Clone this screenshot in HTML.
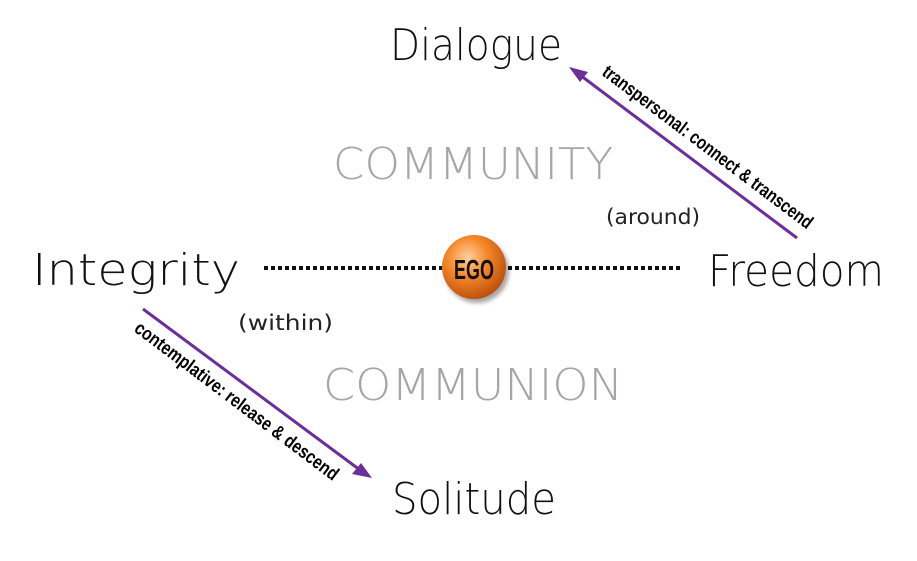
<!DOCTYPE html>
<html><head><meta charset="utf-8"><style>
html,body{margin:0;padding:0;background:#fff;}
svg{display:block;}
</style></head><body>
<svg width="917" height="561" viewBox="0 0 917 561" xmlns="http://www.w3.org/2000/svg">
<defs>
<radialGradient id="ball" cx="0.4" cy="0.35" r="0.7">
<stop offset="0" stop-color="#ffd0a0"/>
<stop offset="0.45" stop-color="#f5872a"/>
<stop offset="1" stop-color="#b84a08"/>
</radialGradient>
<filter id="sh" x="-30%" y="-30%" width="160%" height="160%"><feGaussianBlur stdDeviation="2"/></filter>
</defs>
<g font-family="'DejaVu Sans','Liberation Sans',sans-serif" font-weight="300" fill="#111">
<text x="390" y="60" font-size="44" textLength="172" lengthAdjust="spacingAndGlyphs">Dialogue</text>
<text x="32" y="285" font-size="44" textLength="208" lengthAdjust="spacingAndGlyphs">Integrity</text>
<text x="708" y="286" font-size="44" textLength="176" lengthAdjust="spacingAndGlyphs">Freedom</text>
<text x="392" y="514" font-size="44" textLength="164" lengthAdjust="spacingAndGlyphs">Solitude</text>
</g>
<g font-family="'DejaVu Sans','Liberation Sans',sans-serif" font-weight="200" fill="#a6a6a6" font-size="44">
<text x="333" y="179" textLength="280" lengthAdjust="spacingAndGlyphs">COMMUNITY</text>
<text x="323" y="400" textLength="300" lengthAdjust="spacingAndGlyphs">COMMUNION</text>
</g>
<g font-family="'DejaVu Sans','Liberation Sans',sans-serif" fill="#222" font-size="21">
<text x="606" y="224" textLength="94" lengthAdjust="spacingAndGlyphs">(around)</text>
<text x="238" y="330" textLength="95" lengthAdjust="spacingAndGlyphs">(within)</text>
</g>
<line x1="264" y1="268" x2="442" y2="268" stroke="#111" stroke-width="4" stroke-dasharray="4 3"/>
<line x1="508" y1="268" x2="682" y2="268" stroke="#111" stroke-width="4" stroke-dasharray="4 3"/>
<circle cx="477" cy="271" r="32" fill="#000" opacity="0.35" filter="url(#sh)"/>
<circle cx="474" cy="267" r="32" fill="url(#ball)"/>
<text x="474" y="279" text-anchor="middle" font-family="'Liberation Sans',sans-serif" font-weight="bold" font-size="28" fill="#111" textLength="40" lengthAdjust="spacingAndGlyphs">EGO</text>
<line x1="797" y1="238" x2="580" y2="75" stroke="#6b2f9a" stroke-width="3"/>
<polygon points="569,67 588,72 580,82" fill="#6b2f9a"/>
<line x1="143" y1="309" x2="360" y2="470" stroke="#6b2f9a" stroke-width="3"/>
<polygon points="372,478 352,474 361,463" fill="#6b2f9a"/>
<g font-family="'Liberation Sans Narrow','Liberation Sans',sans-serif" font-weight="bold" font-size="19" fill="#000">
<text transform="translate(704,152) rotate(37)" text-anchor="middle" textLength="258" lengthAdjust="spacingAndGlyphs">transpersonal: connect &amp; transcend</text>
<text transform="translate(233,406) rotate(37)" text-anchor="middle" textLength="250" lengthAdjust="spacingAndGlyphs">contemplative: release &amp; descend</text>
</g>
</svg>
</body></html>
